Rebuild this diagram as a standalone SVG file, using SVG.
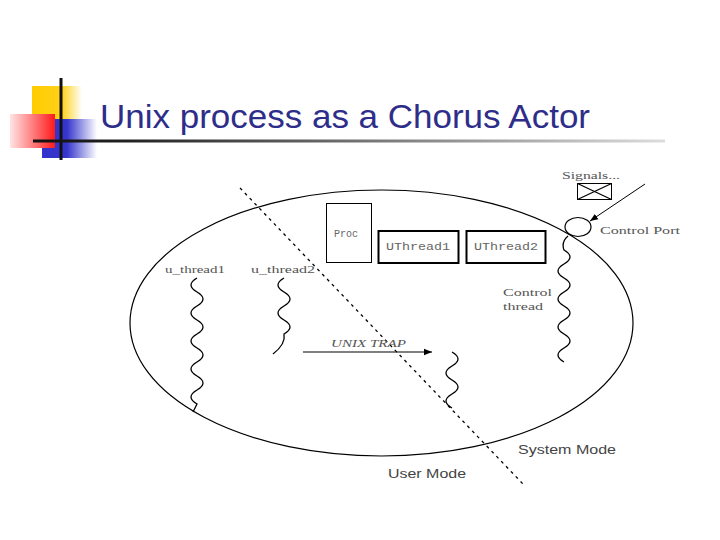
<svg xmlns="http://www.w3.org/2000/svg" width="720" height="540" viewBox="0 0 720 540">
<style>
.ln{fill:none;stroke:#000;stroke-width:1.2}
.wave{fill:none;stroke:#000;stroke-width:1.3}
.serif{font-family:"Liberation Serif","Times New Roman",serif;font-size:11px;fill:#555}
.mono{font-family:"Liberation Mono","Courier New",monospace;font-size:10px;fill:#666}
.sans{font-family:"Liberation Sans",Arial,sans-serif;font-size:12px;fill:#444}
.box{fill:#fff;stroke:#000}
</style>
<defs>
<linearGradient id="gY" x1="0" y1="0" x2="1" y2="0"><stop offset="0" stop-color="#FFCC00"/><stop offset="0.6" stop-color="#FFD21A"/><stop offset="1" stop-color="#FFFFFF"/></linearGradient>
<linearGradient id="gR" x1="0" y1="0" x2="1" y2="0"><stop offset="0" stop-color="#FFE4E4"/><stop offset="1" stop-color="#FF1A1A"/></linearGradient>
<linearGradient id="gB" x1="0" y1="0" x2="1" y2="0"><stop offset="0" stop-color="#3333CC"/><stop offset="0.45" stop-color="#3535CC"/><stop offset="1" stop-color="#FFFFFF"/></linearGradient>
<linearGradient id="gL" x1="0" y1="0" x2="1" y2="0"><stop offset="0" stop-color="#111"/><stop offset="0.15" stop-color="#222"/><stop offset="1" stop-color="#DDD"/></linearGradient>
<marker id="ah" viewBox="0 0 10 10" refX="10" refY="5" markerWidth="8" markerHeight="8" markerUnits="userSpaceOnUse" orient="auto"><path d="M0,1 L10,5 L0,9 Z" fill="#000"/></marker>
</defs>

<g id="logo">
<rect x="32" y="86" width="50" height="46" fill="url(#gY)"/>
<rect x="42" y="119" width="55" height="39" fill="url(#gB)"/>
<rect x="10" y="114" width="45" height="34" fill="url(#gR)"/>
<rect x="59.5" y="78" width="3" height="82" fill="#111"/>
<rect x="33" y="139.5" width="632" height="3" fill="url(#gL)"/>
</g>

<g id="title">
<text x="100" y="128" font-family="'Liberation Sans',Arial,sans-serif" font-size="33" fill="#2E2E8A" textLength="490" lengthAdjust="spacingAndGlyphs">Unix process as a Chorus Actor</text>
</g>

<g id="actor">
<ellipse cx="381.5" cy="323" rx="251.5" ry="133" class="ln"/>
</g>

<g id="proc">
<rect x="326.5" y="203.5" width="45" height="59" class="box" stroke-width="1"/>
<text x="334" y="237" class="mono">Proc</text>
</g>
<g id="uthread1">
<rect x="378.5" y="231" width="80" height="32" class="box" stroke-width="2"/>
<text x="386" y="250" class="mono" textLength="64" lengthAdjust="spacingAndGlyphs">UThread1</text>
</g>
<g id="uthread2">
<rect x="466.5" y="231" width="79" height="32" class="box" stroke-width="2"/>
<text x="474" y="250" class="mono" textLength="64" lengthAdjust="spacingAndGlyphs">UThread2</text>
</g>

<g id="signals">
<text x="562" y="179" class="serif" textLength="58" lengthAdjust="spacingAndGlyphs">Signals...</text>
<rect x="577.5" y="183.5" width="34" height="16" class="box" stroke-width="1"/>
<path d="M577.5,183.5 L611.5,199.5 M611.5,183.5 L577.5,199.5" class="ln" stroke-width="1"/>
</g>

<g id="control-port">
<ellipse cx="578" cy="227" rx="13" ry="9.5" class="ln"/>
<text x="600" y="234" class="serif" textLength="80" lengthAdjust="spacingAndGlyphs">Control Port</text>
</g>

<g id="control-thread">
<path d="M568,236 q-7,6 -4,14 q12,7 0,14 t0,14 t0,14 t0,14 t0,14 t0,14 t0,14 t0,14" class="wave"/>
<text x="503" y="296" class="serif" textLength="49" lengthAdjust="spacingAndGlyphs">Control</text>
<text x="503" y="310" class="serif" textLength="40" lengthAdjust="spacingAndGlyphs">thread</text>
</g>

<g id="u_thread1">
<text x="165" y="273" class="serif" textLength="60" lengthAdjust="spacingAndGlyphs">u_thread1</text>
<path d="M197,278 q-12,7 0,14 t0,14 t0,14 t0,14 t0,14 t0,14 t0,14 t0,14 t0,14 l-4,8" class="wave"/>
</g>

<g id="u_thread2">
<text x="251" y="273" class="serif" textLength="64" lengthAdjust="spacingAndGlyphs">u_thread2</text>
<path d="M284,278 q-12,7 0,14 t0,14 t0,14 t0,14 q2,10 -11,20" class="wave"/>
</g>

<g id="kernel-thread">
<path d="M452,352 q12,7 0,14 t0,14 t0,14 t0,14" class="wave"/>
</g>

<g id="modes">
<text x="518" y="454" class="sans" textLength="98" lengthAdjust="spacingAndGlyphs">System Mode</text>
<text x="388" y="478" class="sans" textLength="78" lengthAdjust="spacingAndGlyphs">User Mode</text>
</g>

<g id="connectors">
<line x1="240" y1="188" x2="523" y2="484" stroke="#000" stroke-width="1.3" stroke-dasharray="3 4"/>
<line x1="303" y1="352" x2="432" y2="352" stroke="#000" stroke-width="1.2" marker-end="url(#ah)"/>
<text x="331" y="347" font-family="'Liberation Serif','Times New Roman',serif" font-style="italic" font-size="11" fill="#555" textLength="75" lengthAdjust="spacingAndGlyphs">UNIX TRAP</text>
<line x1="645" y1="184" x2="590" y2="221" stroke="#000" stroke-width="1" marker-end="url(#ah)"/>
</g>
</svg>
